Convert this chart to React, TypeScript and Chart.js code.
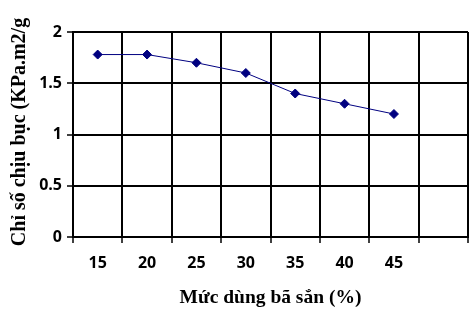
import React, { useEffect, useRef } from "react";
import { Chart, registerables } from "chart.js";

Chart.register(...registerables);

const categories = ["15", "20", "25", "30", "35", "40", "45", ""];
const values = [1.78, 1.78, 1.7, 1.6, 1.4, 1.3, 1.2, null];
const yMin = 0;
const yMax = 2;
const yStep = 0.5;
const xTitle = "Mức dùng bã sắn (%)";
const yTitle = "Chỉ số chịu bục (KPa.m2/g";

const yTitlePlugin = {
  id: "yTitlePlugin",
  afterDraw(chart: any) {
    const ctx = chart.ctx;
    ctx.save();
    ctx.translate(20, 132);
    ctx.rotate(-Math.PI / 2);
    ctx.font = 'bold 20px "Liberation Serif"';
    ctx.fillStyle = "#000";
    ctx.textAlign = "center";
    ctx.textBaseline = "middle";
    ctx.fillText(yTitle, 0, 0);
    ctx.restore();
  },
};

export default function App() {
  const ref = useRef<HTMLCanvasElement>(null);
  useEffect(() => {
    if (!ref.current) return;
    const chart = new Chart(ref.current, {
      type: "line",
      data: {
        labels: categories,
        datasets: [
          {
            data: values,
            borderColor: "#000080",
            backgroundColor: "#000080",
            borderWidth: 1,
            pointStyle: "rectRot",
            pointRadius: 4.5,
            pointBorderWidth: 1,
            pointBackgroundColor: "#000080",
            pointBorderColor: "#000080",
            tension: 0,
          },
        ],
      },
      options: {
        responsive: false,
        animation: false,
        layout: { padding: { left: 0, top: 32, right: 7, bottom: 6 } },
        plugins: { legend: { display: false }, tooltip: { enabled: false } },
        scales: {
          x: {
            type: "category",
            offset: true,
            grid: {
              display: true,
              offset: true,
              color: "#000",
              lineWidth: 2,
              drawTicks: true,
              tickLength: 6,
              tickColor: "#000",
              tickWidth: 1.5,
            },
            border: { display: true, color: "#000", width: 2 },
            ticks: {
              color: "#000",
              font: { family: '"Open Sans"', weight: "bold", size: 16 },
              padding: 11,
              maxRotation: 0,
              autoSkip: false,
            },
            title: {
              display: true,
              text: xTitle,
              color: "#000",
              font: { family: '"Liberation Serif"', weight: "bold", size: 19.5 },
              padding: { top: 0, bottom: 0 },
            },
            afterFit: (s: any) => {
              s.height = 316 - 6 - 237;
            },
          },
          y: {
            min: yMin,
            max: yMax,
            grid: {
              color: "#000",
              lineWidth: 2,
              drawTicks: true,
              tickLength: 6,
              tickColor: "#000",
              tickWidth: 1.5,
            },
            border: { display: true, color: "#000", width: 2 },
            ticks: {
              stepSize: yStep,
              color: "#000",
              font: { family: '"Open Sans"', weight: "bold", size: 16 },
              padding: 5,
              callback: (v: any) => String(Number(v)),
            },
            afterFit: (s: any) => {
              s.width = 73;
            },
          },
        },
      },
      plugins: [yTitlePlugin],
    });
    return () => chart.destroy();
  }, []);
  return (
    <canvas
      ref={ref}
      width={475}
      height={316}
      style={{ position: "absolute", left: 0, top: 0, width: 475, height: 316 }}
    />
  );
}
